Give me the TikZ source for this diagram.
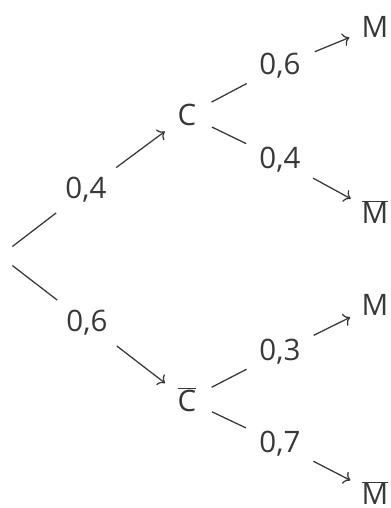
\documentclass[tikz,border=0pt]{standalone}
\usepackage{fontspec}
\setmainfont{Open Sans}
\usetikzlibrary{arrows.meta}
\definecolor{cink}{HTML}{383838}
\tikzset{
  every picture/.style={font=\fontsize{21}{25}\selectfont, line width=0.9pt, color=cink},
  ev/.style={circle, inner sep=0pt, minimum size=1.35cm},
  pr/.style={circle, inner sep=0pt, minimum size=1.85cm},
  ar/.style={-{To[length=4.5pt]}},
}
\newcommand\nonev[1]{$\overline{\hbox{#1}}$}

\begin{document}
\begin{tikzpicture}[x=0.025cm, y=-0.025cm]
  \useasboundingbox (0,0) rectangle (390,508);
  \node[circle, inner sep=0pt, minimum size=0.75cm] (root) at (0,256) {};
  % first level
  \node[ev] (c) at (187,115) {C};
  \node[ev] (cn) at (187,400) {\nonev{C}};
  \node[pr] (p1) at (86,190) {0,4};
  \node[pr] (p2) at (87,323) {0,6};
  \draw (root) -- (p1); \draw[ar] (p1) -- (c);
  \draw (root) -- (p2); \draw[ar] (p2) -- (cn);
  % second level
  \node[pr] (q1) at (280,66) {0,6};
  \node[pr] (q2) at (280,160) {0,4};
  \node[pr] (q3) at (280,352) {0,3};
  \node[pr] (q4) at (280,444) {0,7};
  \node[ev] (m1) at (375,27) {M};
  \node[ev] (m2) at (375,212) {\nonev{M}};
  \node[ev] (m3) at (375,305) {M};
  \node[ev] (m4) at (375,493) {\nonev{M}};
  \draw (c) -- (q1); \draw[ar] (q1) -- (m1);
  \draw (c) -- (q2); \draw[ar] (q2) -- (m2);
  \draw (cn) -- (q3); \draw[ar] (q3) -- (m3);
  \draw (cn) -- (q4); \draw[ar] (q4) -- (m4);
\end{tikzpicture}
\end{document}
